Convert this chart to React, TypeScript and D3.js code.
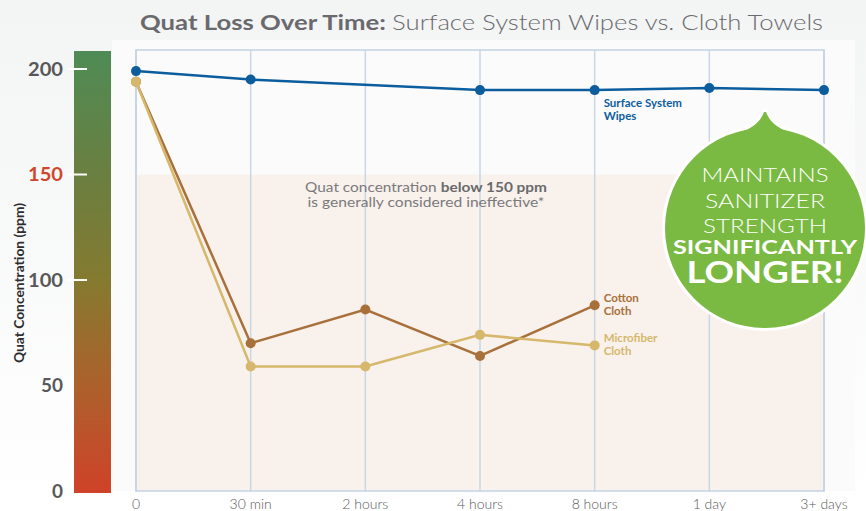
import React from "react";
import * as d3 from "d3";

const categories = ["0", "30 min", "2 hours", "4 hours", "8 hours", "1 day", "3+ days"];
const wipesValues: (number | null)[] = [199, 195, null, 190, 190, 191, 190];
const cottonValues: (number | null)[] = [194, 70, 86, 64, 88, null, null];
const microfiberValues: (number | null)[] = [194, 59, 59, 74, 69, null, null];
const yTicks = [0, 50, 100, 150, 200];
const markedTicks = [100, 150, 200];
const threshold = 150;

const series = [
  { name: ["Cotton", "Cloth"], values: cottonValues, color: "#a8703a" },
  { name: ["Microfiber", "Cloth"], values: microfiberValues, color: "#d5b86b" },
  { name: ["Surface System", "Wipes"], values: wipesValues, color: "#0c5d9e" },
];

const W = 866;
const H = 511;
const font = "Lato, 'Open Sans', sans-serif";

export default function App() {
  const x = d3.scalePoint<string>().domain(categories).range([136, 824]);
  const y = d3.scaleLinear().domain([0, 200]).range([491, 69]);
  const top = 50;

  const pts = (vals: (number | null)[]) =>
    vals
      .map((v, i) => (v == null ? null : ([x(categories[i])!, y(v)] as [number, number])))
      .filter((p): p is [number, number] => p !== null);

  const line = d3.line<[number, number]>();

  // badge
  const cx = 765;
  const cy = 228;
  const r = 100;
  const spout = `M${cx - 24},${cy - r + 4} Q${cx - 6},${cy - r - 2} ${cx - 1},${cy - r - 16} L${cx + 1},${cy - r - 16} Q${cx + 6},${cy - r - 2} ${cx + 24},${cy - r + 4} Z`;

  const x0 = x(categories[0])!;
  const x1 = x(categories[categories.length - 1])!;
  const tickWidth = (t: number) => (String(t).length === 1 ? 11 : String(t).length === 2 ? 22 : 35);

  return (
    <svg
      width={W}
      height={H}
      style={{ position: "absolute", left: 0, top: 0 }}
      fontFamily={font}
    >
      <defs>
        <linearGradient id="pageBg" x1="0" y1="0" x2="0" y2="1">
          <stop offset="0" stopColor="#f3f4f4" />
          <stop offset="1" stopColor="#ffffff" />
        </linearGradient>
        <linearGradient id="barGrad" x1="0" y1="0" x2="0" y2="1">
          <stop offset="0" stopColor="#4e8b55" />
          <stop offset="0.28" stopColor="#6a7f40" />
          <stop offset="0.52" stopColor="#857a30" />
          <stop offset="0.76" stopColor="#ad602c" />
          <stop offset="1" stopColor="#cf4229" />
        </linearGradient>
      </defs>
      <rect width={W} height={H} fill="url(#pageBg)" />
      <rect x={112} y={40} width={743} height={y(0) - 40} fill="#fbfbfb" />

      {/* title */}
      <text x={140} y={30} fontSize={21} fill="#6a6a6e" textLength={683} lengthAdjust="spacingAndGlyphs">
        <tspan fontWeight="bold">Quat Loss Over Time: </tspan>
        <tspan fontWeight={300}>Surface System Wipes vs. Cloth Towels</tspan>
      </text>

      {/* ineffective zone */}
      <rect x={x0} y={y(threshold)} width={x1 - x0} height={y(0) - y(threshold)} fill="#f9f1ec" />

      {/* grid */}
      {categories.map((c) => (
        <line key={c} x1={x(c)} x2={x(c)} y1={top} y2={y(0)} stroke="#c9d6e6" strokeWidth={1.5} />
      ))}
      <rect x={x0} y={top} width={x1 - x0} height={y(0) - top} fill="none" stroke="#c3d2e4" strokeWidth={1.5} />

      {/* gradient bar */}
      <rect x={74} y={51} width={37} height={442} fill="url(#barGrad)" />
      {markedTicks.map((t) => (
        <line key={t} x1={68} x2={87} y1={y(t)} y2={y(t)} stroke="#fff" strokeWidth={2} />
      ))}
      {yTicks.map((t) => (
        <text
          key={t}
          x={63}
          y={y(t) + 6.5}
          textAnchor="end"
          fontSize={18}
          fontWeight="bold"
          fill={t === threshold ? "#d0482b" : "#58585a"}
          textLength={tickWidth(t)}
          lengthAdjust="spacingAndGlyphs"
        >
          {t}
        </text>
      ))}
      <text
        transform={`translate(24, ${y(100) + 3}) rotate(-90)`}
        textAnchor="middle"
        fontSize={12.5}
        fontWeight="bold"
        fill="#2e2e2e"
        textLength={160}
        lengthAdjust="spacingAndGlyphs"
      >
        Quat Concentration (ppm)
      </text>

      {/* x labels */}
      {categories.map((c) => (
        <text key={c} x={x(c)} y={509} textAnchor="middle" fontSize={14} fill="#5a5a5a" fontWeight={300}>
          {c}
        </text>
      ))}

      {/* annotation */}
      <text x={426} y={192} textAnchor="middle" fontSize={13} fill="#7a7a7c" textLength={242} lengthAdjust="spacingAndGlyphs">
        Quat concentration <tspan fontWeight="bold" fill="#6a6a6c">below 150 ppm</tspan>
      </text>
      <text x={426} y={207} textAnchor="middle" fontSize={13} fill="#7a7a7c" textLength={237} lengthAdjust="spacingAndGlyphs">
        is generally considered ineffective*
      </text>

      {/* lines */}
      {series.map((s) => {
        const p = pts(s.values);
        const last = p[p.length - 1];
        const lx = x("8 hours")! + 9;
        const isWipes = s.name[0] === "Surface System";
        const ly = isWipes ? 107 : last[1] - 3;
        return (
          <g key={s.name.join(" ")}>
            <path d={line(p) ?? ""} fill="none" stroke={s.color} strokeWidth={2.5} />
            {p.map((d, i) => (
              <circle key={i} cx={d[0]} cy={d[1]} r={5} fill={s.color} />
            ))}
            <text x={lx} y={ly} fontSize={11.5} fontWeight="bold" fill={s.color}>
              {s.name[0]}
            </text>
            <text x={lx} y={ly + 12.5} fontSize={11.5} fontWeight="bold" fill={s.color}>
              {s.name[1]}
            </text>
          </g>
        );
      })}

      {/* badge */}
      <g stroke="#fff" strokeWidth={6} fill="#fff">
        <circle cx={cx} cy={cy} r={r} />
        <path d={spout} strokeLinejoin="round" />
      </g>
      <g fill="#7aba42">
        <circle cx={cx} cy={cy} r={r} />
        <path d={spout} />
      </g>
      <g fill="#fff" textAnchor="middle">
        <text x={cx} y={182} fontSize={20} fontWeight={300} textLength={127} lengthAdjust="spacingAndGlyphs">MAINTAINS</text>
        <text x={cx} y={208} fontSize={20} fontWeight={300} textLength={120} lengthAdjust="spacingAndGlyphs">SANITIZER</text>
        <text x={cx} y={233} fontSize={20} fontWeight={300} textLength={124} lengthAdjust="spacingAndGlyphs">STRENGTH</text>
        <text x={cx} y={254} fontSize={19} fontWeight="bold" textLength={184} lengthAdjust="spacingAndGlyphs">SIGNIFICANTLY</text>
        <text x={cx} y={283} fontSize={31} fontWeight="bold" textLength={157} lengthAdjust="spacingAndGlyphs">LONGER!</text>
      </g>
    </svg>
  );
}
